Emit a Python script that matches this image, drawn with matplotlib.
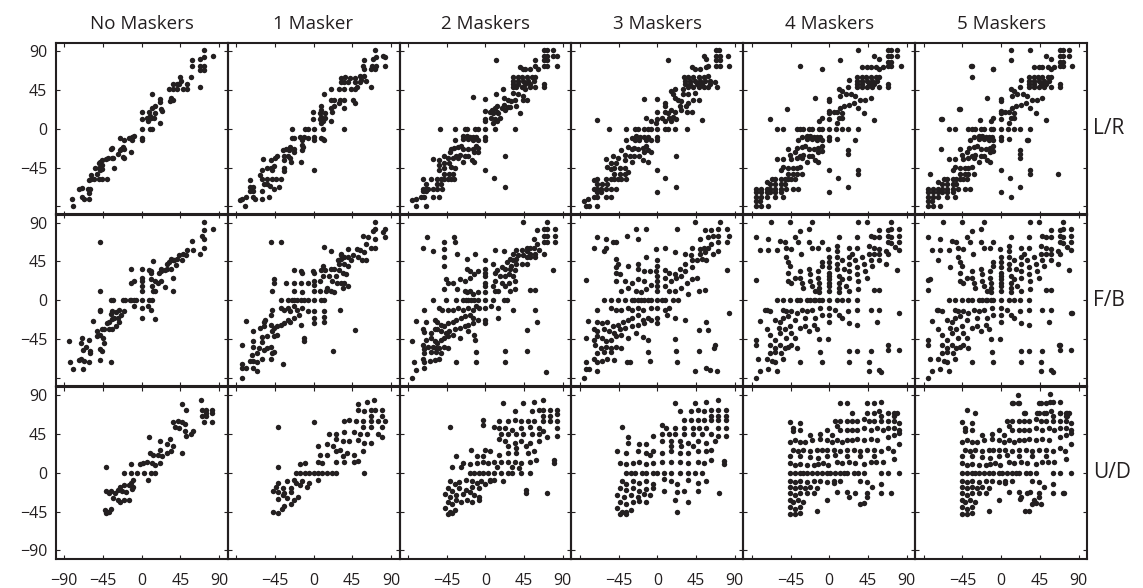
import matplotlib
matplotlib.use('Agg')
import matplotlib.pyplot as plt

plt.rcParams['font.family'] = ['Open Sans', 'DejaVu Sans']

# column titles and row labels
titles = ['No Maskers', '1 Masker', '2 Maskers', '3 Maskers', '4 Maskers', '5 Maskers']
row_labels = ['L/R', 'F/B', 'U/D']
ticks = [-90, -45, 0, 45, 90]

# (target, response) in degrees
lr0 = [(72,91),(83,84),(72,83),(68,81),(58,80),(58,73),(68,73),(72,73),(68,68),(72,68),
       (45,60),(46,56),(36,52),(41,52),(44,52),(53,52),(57,60),(32,46),(36,46),(41,46),(48,46),(53,46),(68,48),
       (34,36),(36,33),(33,32),(12,40),(21,35),(21,31),(15,26),(12,24),(23,23),(24,21),(8,20),(15,18),(10,15),
       (0,20),(0,11),(6,13),(11,12),(14,13),(7,9),(9,13),(21,7),(0,0),(10,0),(12,0),
       (0,-11),(0,-13),(-9,-8),(-11,-9),(-15,-11),(-11,-13),(-25,-11),(-21,-13),(-22,-21),(-24,-24),(-25,-25),
       (-20,-23),(-12,-27),(-34,-22),(-36,-24),(-28,-29),(-33,-34),(-35,-34),(-39,-34),(-41,-35),(-22,-33),
       (-20,-34),(-32,-45),(-46,-36),(-48,-38),(-46,-42),(-50,-40),(-54,-46),(-50,-46),(-46,-47),(-48,-48),
       (-52,-52),(-59,-54),(-59,-58),(-56,-58),(-50,-58),(-46,-58),(-40,-58),(-61,-60),(-63,-70),(-60,-70),
       (-73,-70),(-69,-69),(-61,-74),(-69,-79),(-67,-81),(-61,-82),(-81,-81),(-80,-90)]

lr1 = [(72,91),(73,83),(83,83),(81,84),(69,81),(59,80),(57,73),(68,73),(73,73),(59,69),(67,69),(71,69),(83,73),
       (59,61),(54,61),(48,59),(42,59),(37,60),(32,59),(48,54),(54,54),(40,54),(36,54),(32,54),(30,46),(36,46),
       (44,46),(48,46),(51,48),(67,48),(61,56),(55,57),(20,46),(12,40),(20,34),(24,34),(31,33),(36,33),(46,33),
       (48,30),(30,30),(24,26),(20,24),(22,20),(35,24),(9,26),(9,22),(-1,20),(7,18),(13,18),(9,14),(13,13),(7,11),
       (-1,11),(11,9),(20,9),(9,7),(35,0),(11,0),(0,0),(-7,0),(-10,0),(-25,0),(0,-9),(0,-13),(-7,-11),(-11,-9),
       (-16,-9),(-13,-13),(-23,-11),(-25,-11),(9,-11),(11,-12),(12,-13),(-12,-21),(-13,-19),(-23,-23),(-27,-21),
       (-32,-23),(-36,-25),(-29,-25),(-13,-25),(-23,-27),(-30,-32),(-34,-32),(-27,-34),(-34,-36),(-42,-32),
       (-45,-34),(-50,-36),(-15,-39),(-26,-38),(0,-48),(-50,-46),(-54,-45),(-60,-48),(-48,-48),(-46,-43),
       (-59,-35),(-34,-45),(-34,-49),(-62,-54),(-60,-58),(-54,-58),(-48,-58),(-44,-58),(-38,-58),(-58,-64),
       (-54,-64),(-51,-66),(-46,-70),(-40,-68),(-70,-68),(-74,-68),(-74,-72),(-70,-72),(-74,-59),(-83,-81),
       (-79,-79),(-70,-79),(-68,-81),(-60,-81),(-52,-79),(-80,-90),(-60,-72),(-85,-83)]

lr2 = [(68,91),(72,91),(79,91),(68,84),(72,84),(79,84),(83,84),(68,80),(72,80),(68,73),(72,73),(83,73),(58,80),
       (58,73),(61,70),(52,70),(46,70),(40,72),(44,69),(12,80),(32,60),(38,60),(43,60),(48,60),(54,60),(58,60),
       (32,56),(38,56),(44,56),(50,56),(56,56),(32,52),(38,52),(46,52),(52,52),(32,48),(36,48),(42,48),(46,46),
       (52,48),(58,48),(68,52),(68,48),(32,42),(38,40),(44,38),(44,33),(48,33),(34,33),(36,26),(30,32),(26,34),
       (22,36),(22,28),(28,25),(19,24),(13,26),(11,24),(8,22),(13,20),(15,18),(9,18),(5,20),(7,12),(11,11),(17,12),
       (13,9),(9,7),(0,21),(0,11),(0,9),(23,22),(26,25),(40,18),(20,46),(12,40),(0,35),(-14,37),
       (-53,0),(-36,0),(-24,0),(-21,0),(-12,0),(-9,0),(0,0),(11,0),(34,0),
       (0,-9),(0,-13),(-11,-9),(-14,-9),(-18,-9),(-22,-8),(-26,-8),(-26,-12),(-20,-12),(-14,-13),(-9,-13),
       (-36,-13),(-37,-22),(-32,-21),(-28,-20),(-26,-23),(-20,-23),(-14,-23),(-13,-27),(-9,-27),(-11,-20),
       (-9,-22),(-40,-23),(-41,-27),(-34,-32),(-30,-30),(-24,-32),(-20,-32),(-16,-36),(-13,-38),(-26,-38),
       (-32,-34),(-38,-34),(-44,-34),(-48,-32),(-54,-36),(-61,-35),(-48,-40),(-42,-40),(-54,-42),(-54,-48),
       (-48,-46),(-40,-44),(-36,-46),(-48,-52),(-42,-52),(-38,-52),(-52,-58),(-48,-58),(-44,-58),(-40,-58),
       (-37,-58),(-56,-58),(-63,-58),(-73,-58),(-69,-64),(-56,-64),(-52,-64),(-73,-70),(-69,-70),(-67,-70),
       (-61,-70),(-56,-70),(-50,-70),(-73,-72),(-69,-72),(-61,-79),(-71,-79),(-75,-79),(-54,-79),(-81,-81),
       (-85,-83),(-81,-90),(-69,-90),(0,-48),(10,-57),(23,-32),(23,-68)]

lr3 = [(68,91),(72,91),(68,84),(73,84),(82,84),(54,84),(57,81),(68,80),(73,80),(68,73),(73,73),(83,73),(59,73),
       (57,72),(50,70),(40,72),(44,70),(12,80),(31,60),(36,60),(42,60),(48,60),(54,60),(59,61),(32,56),(38,56),
       (44,56),(50,56),(56,56),(61,56),(32,52),(38,52),(46,52),(52,52),(61,52),(67,54),(69,48),(36,48),(42,48),
       (48,48),(54,48),(59,48),(30,46),(20,46),(16,44),(18,40),(20,36),(24,34),(28,32),(30,40),(36,40),(44,41),
       (48,34),(42,33),(36,30),(33,26),(26,26),(28,22),(34,20),(40,20),(-15,35),(0,35),(9,30),(9,26),(9,20),
       (12,18),(16,22),(20,20),(18,14),(22,11),(16,9),(9,9),(13,12),(5,12),(0,20),(0,11),(-1,7),(52,10),(-13,12),
       (-7,9),(-70,10),
       (-56,0),(-36,0),(-26,0),(-23,0),(-15,0),(-11,0),(-7,0),(0,0),(9,0),(12,0),(20,0),(35,0),
       (0,-9),(0,-13),(-11,-9),(-15,-9),(-20,-9),(-25,-8),(-30,-11),(-26,-13),(-21,-13),(-13,-13),(-7,-13),
       (-36,-13),(-34,-21),(-30,-23),(-27,-22),(-23,-23),(-17,-22),(-13,-20),(-11,-25),(-7,-27),(-15,-27),
       (-42,-25),(-38,-30),(-32,-32),(-27,-32),(-21,-32),(-17,-36),(-11,-38),(-30,-38),(-38,-36),(-46,-34),
       (-52,-32),(-60,-35),(-54,-40),(-48,-40),(-58,-44),(-54,-47),(-50,-46),(-44,-45),(-38,-46),(-34,-50),
       (-50,-52),(-44,-52),(-38,-52),(-54,-58),(-50,-58),(-46,-58),(-42,-58),(-36,-58),(-60,-58),(-70,-58),
       (-74,-60),(-70,-64),(-64,-64),(-58,-64),(-74,-70),(-70,-70),(-66,-70),(-60,-70),(-54,-70),(-48,-70),
       (-70,-73),(-66,-73),(-60,-79),(-70,-79),(-74,-79),(-54,-79),(-81,-81),(-85,-84),(-83,-90),(-79,-90),
       (-70,-90),(0,-48),(9,-57),(22,-32),(22,-68),(0,-73)]

lr4 = [(34,91),(68,91),(72,91),(79,91),(52,84),(58,81),(68,84),(72,84),(79,84),(-34,73),(-9,69),(12,80),(38,72),
       (44,72),(48,72),(54,72),(62,72),(68,73),(72,73),(83,73),(58,70),(68,78),(72,78),(32,60),(38,60),(43,60),
       (48,60),(54,60),(58,60),(32,56),(38,56),(44,56),(50,56),(56,56),(32,52),(38,52),(46,52),(52,52),(32,48),
       (38,48),(44,48),(50,48),(58,48),(68,52),(68,48),(23,57),(22,48),(15,44),(11,46),(13,38),(19,40),(25,40),
       (30,38),(36,33),(42,33),(48,36),(29,30),(23,28),(17,26),(13,24),(9,20),(15,18),(5,20),(11,12),(15,12),
       (9,7),(0,35),(0,32),(0,21),(0,18),(0,11),(-16,36),(-49,23),(-69,11),(-9,12),(-12,9),(34,24),(40,18),(52,10),
       (-61,0),(-54,0),(-38,0),(-34,0),(-30,0),(-24,0),(-20,0),(-12,0),(-9,0),(0,0),(8,0),(15,0),(22,0),(34,0),
       (-36,-13),(-32,-9),(-26,-8),(-22,-8),(-18,-9),(-14,-9),(-11,-9),(0,-9),(0,-13),(9,-12),(30,-13),(-26,-12),
       (-20,-12),(-14,-13),(-9,-13),(-48,-23),(-37,-22),(-32,-21),(-28,-20),(-24,-23),(-18,-23),(-13,-22),
       (-9,-20),(-9,-26),(-13,-27),(-40,-27),(-46,-30),(-34,-32),(-30,-30),(-24,-32),(-20,-32),(-16,-36),
       (-13,-38),(-26,-38),(-32,-34),(-38,-34),(-44,-35),(-54,-35),(-61,-35),(22,-25),(22,-29),(-54,-44),
       (-48,-46),(-42,-45),(-38,-46),(-34,-44),(-56,-48),(-48,-52),(-42,-52),(-38,-52),(-32,-52),(0,-48),
       (34,-48),(34,-52),(22,-68),(10,-57),(0,-73),(-67,-58),(-63,-58),(-56,-58),(-52,-58),(-48,-58),(-44,-58),
       (-40,-58),(-73,-62),(-69,-64),(-63,-64),(-56,-64),(-52,-64),(-85,-70),(-79,-70),(-73,-70),(-69,-70),
       (-63,-70),(-56,-70),(-50,-70),(-42,-70),(-36,-70),(-85,-73),(-79,-73),(-73,-73),(-69,-73),(-63,-73),
       (-56,-73),(-85,-79),(-79,-79),(-73,-79),(-63,-79),(-54,-79),(-85,-84),(-81,-84),(-85,-90),(-79,-90),
       (-71,-90)]

lr5_extra = [(-35,73),(-9,69),(-34,60),(12,91),(-70,11),(-48,23),(-25,10),(31,-13),(66,-53),(-70,-24),
             (-83,-52),(22,-34),(12,-79)]
lr5 = lr4 + lr5_extra

fb0 = [(72,91),(83,83),(72,81),(70,75),(72,71),(58,69),(72,61),(68,53),(60,58),(53,58),(48,54),(44,52),(52,52),
       (47,47),(34,48),(36,46),(32,44),(30,42),(38,47),(41,48),(40,41),(34,36),(30,36),(27,35),(22,34),(20,32),
       (23,36),(13,45),(0,36),(11,34),(11,31),(15,22),(19,20),(23,22),(27,15),(36,11),(36,26),(8,35),(0,26),
       (0,22),(0,16),(0,11),(11,24),(12,16),(13,11),(15,11),(-12,36),(-12,20),(-9,22),(-48,68),(-48,11),
       (-36,0),(-33,0),(-22,0),(-19,0),(-14,0),(-12,0),(-9,0),(-7,0),(0,0),(8,0),(12,0),
       (-9,-7),(0,-9),(7,-7),(11,-11),(0,-21),(15,-22),(-21,-13),(-24,-17),(-26,-11),(-30,-14),(-34,-13),
       (-36,-16),(-40,-27),(-38,-25),(-35,-22),(-32,-21),(-28,-21),(-26,-25),(-30,-30),(-34,-34),(-38,-34),
       (-44,-34),(-46,-34),(-48,-11),(-48,-13),(-57,-24),(-52,-36),(-52,-42),(-48,-40),(-45,-44),(-44,-50),
       (-46,-59),(-48,-57),(-61,-46),(-69,-44),(-71,-50),(-65,-54),(-68,-58),(-60,-59),(-60,-62),(-73,-70),
       (-71,-68),(-61,-72),(-67,-71),(-48,-70),(-36,-72),(-83,-72),(-80,-80),(-68,-80),(-84,-47)]

fb1 = [(72,91),(83,83),(71,82),(81,79),(69,80),(83,73),(63,73),(71,71),(57,75),(61,65),(67,61),(72,61),(59,56),
       (54,58),(50,59),(46,52),(52,50),(56,46),(61,46),(40,50),(36,50),(32,48),(28,46),(30,42),(36,42),(40,40),
       (44,46),(40,59),(32,52),(20,57),(12,62),(11,40),(24,36),(30,35),(34,32),(38,30),(26,28),(22,22),(27,20),
       (32,20),(36,20),(40,16),(34,14),(16,14),(32,54),(-38,67),(-49,67),(-23,35),(-15,34),(-1,34),(0,31),(9,35),
       (13,35),(20,36),(18,28),(11,28),(7,22),(0,22),(0,18),(0,11),(7,11),(14,11),(20,11),(24,9),(-13,32),(-7,20),
       (-15,20),(-23,20),(-32,20),(-46,24),(-46,20),(-48,11),(-23,11),(-13,9),
       (-38,0),(-30,0),(-25,0),(-23,0),(-19,0),(-15,0),(-11,0),(-7,0),(0,0),(9,0),(12,0),
       (31,-11),(12,-13),(12,-20),(12,-25),(0,-13),(0,-21),(0,-27),(-7,-13),(-13,-9),(-19,-11),(-23,-7),(-27,-13),
       (-30,-9),(-34,-11),(-38,-9),(-48,-11),(-50,-17),(-56,-23),(-58,-25),(-79,-24),(-70,-36),(-62,-32),(-58,-30),
       (-50,-29),(-46,-32),(-42,-30),(-38,-29),(-34,-27),(-30,-23),(-27,-25),(-23,-21),(-17,-17),(-15,-29),
       (-48,-36),(-46,-42),(-42,-40),(-54,-42),(-60,-43),(-70,-48),(-60,-49),(-70,-54),(-64,-56),(-58,-58),
       (-54,-56),(-50,-54),(-48,-62),(-46,-60),(-66,-62),(-72,-64),(-83,-52),(-74,-71),(-70,-71),(-66,-72),
       (-60,-68),(-50,-68),(-35,-74),(-83,-74),(-83,-79),(-79,-79),(-70,-79),(-66,-82),(-83,-90),(-11,-44),
       (-11,-48),(48,-35),(23,-59)]

fb2 = [(44,91),(72,91),(68,83),(72,83),(81,83),(60,81),(68,75),(72,75),(81,75),(56,71),(68,67),(72,67),(81,67),
       (60,65),(48,61),(52,61),(57,61),(62,58),(42,58),(48,57),(52,54),(58,54),(68,54),(36,58),(32,54),(38,52),
       (44,52),(48,50),(52,50),(58,50),(36,48),(32,46),(29,48),(25,44),(30,40),(36,42),(42,42),(48,42),(79,35),
       (34,35),(29,36),(23,36),(19,38),(11,32),(13,35),(17,28),(23,28),(27,30),(32,28),(34,22),(27,20),(19,20),
       (11,22),(9,16),(11,11),(15,11),(23,16),(29,11),(34,13),(52,12),(58,12),(0,46),(0,36),(0,32),(0,28),(0,20),
       (0,16),(0,9),(9,42),(22,57),(11,58),(-68,73),(-73,61),(-61,57),(-48,68),(-48,59),(-48,50),(-48,40),
       (-36,67),(-37,73),(-33,53),(-22,48),(-12,54),(-21,36),(-18,34),(-9,34),(-13,30),(-18,26),(-24,22),
       (-46,24),(-44,20),(-38,20),(-30,24),(-48,13),(-33,13),(-24,11),(-22,9),(-18,11),(-14,7),(-9,9),
       (-61,0),(-46,0),(-34,0),(-26,0),(-23,0),(-20,0),(-17,0),(-13,0),(-9,0),(0,0),(9,0),(22,0),(25,0),
       (-71,-11),(-54,-9),(-50,-12),(-44,-12),(-38,-11),(-32,-9),(-26,-11),(-20,-9),(-14,-11),(-11,-7),(-7,-9),
       (0,-9),(7,-7),(15,-9),(32,-11),(15,-21),(0,-23),(0,-27),(58,-12),(60,-25),(48,-35),(-81,-24),(-69,-25),
       (-59,-23),(-56,-25),(-52,-29),(-48,-30),(-44,-27),(-38,-25),(-34,-23),(-28,-21),(-24,-19),(-18,-17),
       (-14,-21),(-9,-23),(-73,-33),(-71,-37),(-63,-38),(-59,-34),(-56,-34),(-52,-36),(-46,-38),(-42,-36),
       (-36,-34),(-30,-32),(-24,-30),(-20,-29),(-14,-27),(-85,-47),(-69,-46),(-63,-44),(-59,-48),(-56,-50),
       (-52,-46),(-48,-44),(-44,-42),(-38,-41),(-30,-44),(-20,-36),(-13,-40),(-12,-46),(-73,-52),(-71,-57),
       (-67,-54),(-61,-54),(-57,-56),(-54,-56),(-48,-54),(-44,-56),(-71,-62),(-63,-60),(-57,-60),(-52,-61),
       (-11,-60),(23,-59),(48,-59),(-83,-72),(-73,-68),(-71,-72),(-65,-71),(-59,-70),(-54,-68),(-34,-72),
       (-11,-72),(23,-72),(-81,-81),(-71,-79),(-85,-90),(70,-83)]

fb3 = [(-25,83),(-13,83),(-35,75),(-23,71),(23,83),(44,91),(73,91),(56,81),(63,81),(71,82),(81,83),(83,75),
       (71,75),(65,75),(59,73),(71,67),(81,67),(63,65),(50,59),(54,61),(59,61),(50,71),(40,61),(-70,73),(-60,71),
       (-52,67),(-48,68),(-74,61),(-60,61),(-62,57),(-48,48),(-46,42),(-48,38),(-34,40),(-23,42),(-13,50),(-1,59),
       (9,61),(20,56),(32,54),(39,52),(50,54),(56,56),(65,54),(71,57),(81,35),(-83,23),(-48,32),(-44,30),(-38,22),
       (-48,22),(-23,36),(-15,34),(-9,34),(-1,34),(9,35),(14,32),(20,30),(26,36),(32,42),(40,46),(46,46),(52,48),
       (57,46),(40,38),(32,34),(28,28),(22,26),(16,22),(9,26),(0,46),(0,40),(0,28),(0,22),(0,16),(0,11),(9,16),
       (13,11),(20,11),(28,14),(34,20),(40,24),(46,26),(-23,24),(-15,22),(-30,20),(-34,14),(-42,11),(-25,11),
       (-19,9),(-13,13),(-7,18),(56,12),(48,11),(36,7),
       (-62,0),(-54,0),(-46,0),(-38,0),(-30,0),(-27,0),(-23,0),(-19,0),(-15,0),(-11,0),(-7,0),(0,0),(5,0),(9,0),
       (18,0),(24,0),
       (83,-15),(-70,-11),(-54,-9),(-48,-12),(-42,-11),(-34,-9),(-29,-11),(-23,-9),(-17,-11),(-7,-9),(0,-9),
       (9,-11),(14,-9),(20,-21),(11,-17),(0,-21),(0,-27),(32,-23),(57,-25),(-81,-24),(-70,-25),(-64,-27),
       (-58,-25),(-52,-30),(-46,-29),(-40,-25),(-34,-23),(-29,-21),(-23,-17),(-17,-23),(-11,-21),(-7,-23),
       (-74,-34),(-70,-36),(-62,-34),(-56,-36),(-50,-38),(-44,-34),(-38,-32),(-30,-30),(-23,-29),(-15,-27),
       (-83,-44),(-74,-46),(-70,-42),(-64,-44),(-60,-48),(-54,-46),(-48,-42),(-42,-41),(-34,-44),(-25,-38),
       (-17,-43),(-11,-46),(48,-35),(59,-35),(-72,-52),(-66,-56),(-60,-54),(-54,-56),(-48,-54),(-42,-56),
       (-70,-62),(-62,-60),(-54,-60),(-11,-60),(20,-45),(22,-59),(48,-59),(67,-52),(66,-56),(-83,-72),(-74,-68),
       (-70,-72),(-64,-71),(-58,-68),(-50,-70),(-35,-72),(-32,-72),(-9,-71),(23,-72),(-83,-80),(-79,-80),
       (-70,-82),(44,-82),(57,-79),(61,-81),(69,-82),(-85,-90)]

fb4 = [(-68,91),(-46,91),(-20,91),(34,91),(44,91),(72,91),(-34,80),(-24,83),(58,81),(68,81),(72,82),(81,83),
       (-85,73),(-71,71),(-57,69),(-52,68),(-40,73),(-36,67),(-24,67),(-9,67),(11,73),(32,73),(48,75),(52,73),
       (58,73),(68,74),(72,73),(81,75),(-81,58),(-71,58),(-61,58),(-50,61),(-44,59),(-33,54),(-20,61),(-13,61),
       (-1,59),(9,63),(23,61),(32,61),(46,63),(52,61),(58,59),(68,67),(72,66),(81,67),(77,62),(81,58),(66,57),
       (52,54),(58,53),(68,54),(-85,23),(79,35),(-50,50),(-48,44),(-46,40),(-48,32),(-48,22),(-44,20),(-40,26),
       (-34,34),(-34,26),(-32,20),(-30,14),(-24,36),(-22,30),(-22,22),(-20,16),(-17,11),(-13,34),(-13,26),
       (-12,20),(-12,14),(-12,9),(-9,44),(-9,40),(0,50),(0,44),(0,38),(0,32),(0,28),(0,24),(0,20),(0,16),(0,11),
       (9,57),(9,50),(9,42),(9,36),(11,28),(11,20),(11,14),(11,9),(15,46),(17,36),(15,24),(19,16),(23,50),(23,42),
       (23,34),(23,26),(23,11),(27,54),(30,46),(32,38),(32,30),(34,22),(34,13),(38,50),(40,42),(42,34),(44,26),
       (46,54),(48,46),(50,40),(58,46),(52,12),(58,12),(66,42),
       (-61,0),(-54,0),(-46,0),(-38,0),(-34,0),(-26,0),(-22,0),(-18,0),(-16,0),(-12,0),(-9,0),(0,0),(9,0),(15,0),
       (22,0),(32,0),
       (-75,-11),(81,-15),(-81,-24),(-73,-12),(-69,-13),(-63,-23),(-57,-25),(-54,-21),(-50,-13),(-48,-19),
       (-44,-13),(-40,-23),(-38,-15),(-32,-11),(-28,-21),(-26,-13),(-20,-11),(-16,-21),(-11,-9),(-9,-17),(0,-9),
       (0,-17),(0,-25),(7,-11),(11,-17),(15,-21),(22,-13),(32,-11),(48,-12),(58,-12),(56,-25),(32,-29),(23,-27),
       (-73,-34),(-69,-40),(-63,-46),(-59,-32),(-57,-38),(-52,-34),(-50,-44),(-46,-30),(-44,-38),(-40,-44),
       (-34,-32),(-28,-30),(-24,-36),(-18,-29),(-14,-34),(-12,-45),(-1,-45),(-69,-52),(-63,-56),(-57,-52),
       (-52,-56),(-48,-54),(-44,-52),(-38,-56),(-69,-62),(-63,-60),(-56,-62),(-11,-60),(23,-59),(48,-59),
       (-85,-46),(-85,-52),(-83,-68),(-73,-68),(-67,-71),(-63,-72),(-54,-68),(-34,-72),(-9,-72),(23,-72),
       (32,-59),(68,-52),(68,-58),(81,-58),(-81,-82),(-71,-80),(-61,-82),(46,-72),(46,-82),(58,-81),(60,-83),
       (-85,-90),(-54,-12)]

fb5_extra = [(-83,24),(-74,46),(-60,38),(83,-15),(67,-52),(-85,12)]
fb5 = fb4 + fb5_extra

ud0 = [(69,84),(47,80),(70,73),(75,73),(82,73),(75,70),(82,70),(52,73),(70,66),(75,66),(82,59),(73,59),(37,59),
       (42,60),(47,59),(51,57),(39,53),(44,52),(50,48),(57,45),(52,43),(60,48),(47,23),(37,31),(29,34),(21,37),
       (8,41),(33,39),(34,25),(29,23),(24,19),(19,21),(21,27),(13,21),(10,23),(1,11),(6,13),(12,11),(16,9),(21,11),
       (-41,7),(-12,10),(-2,10),(-20,0),(-12,0),(-5,0),(3,0),(11,0),(15,0),
       (7,-8),(-10,-8),(-12,-12),(-15,-14),(-20,-14),(-25,-16),(-28,-20),(-23,-21),(-18,-22),(-11,-19),(-10,-16),
       (-36,-21),(-41,-21),(-38,-24),(-31,-24),(-33,-29),(-28,-32),(-20,-32),(-25,-34),(-15,-32),(-43,-43),
       (-40,-46),(-42,-47),(-36,-42),(-38,-45)]

ud1 = [(62,82),(70,84),(52,80),(0,59),(-41,53),(67,73),(72,73),(80,73),(52,73),(59,72),(36,60),(41,61),(49,60),
       (57,60),(67,60),(75,60),(83,60),(67,66),(80,66),(80,53),(67,53),(57,53),(18,45),(26,45),(36,47),(47,47),
       (54,45),(62,45),(75,45),(80,41),(26,39),(34,37),(41,37),(52,38),(59,35),(67,35),(5,31),(16,33),(23,31),
       (31,27),(39,23),(47,21),(57,25),(34,20),(26,25),(16,21),(8,21),(26,13),(36,13),(47,13),(52,14),(5,13),
       (10,11),(-10,11),(-41,7),(-16,10),
       (-21,0),(-16,0),(-10,0),(-5,0),(0,0),(5,0),(10,0),(16,0),(21,0),(26,0),(59,0),
       (5,-8),(-13,-10),(-23,-8),(-31,-10),(-41,-12),(-44,-16),(-36,-18),(-26,-18),(-21,-12),(-16,-14),(-5,-12),
       (-8,-16),(-47,-21),(-41,-22),(-34,-23),(-26,-22),(-36,-26),(-41,-30),(-31,-29),(-23,-32),(-18,-28),
       (-47,-45),(-41,-47),(-37,-42),(-34,-38),(-26,-36)]

ud2 = [(21,81),(44,81),(57,82),(67,84),(34,72),(54,72),(62,73),(67,73),(75,73),(83,73),(83,68),(75,66),(67,66),
       (-3,61),(-3,56),(16,60),(26,60),(34,61),(41,60),(49,60),(57,60),(67,60),(75,60),(83,60),(-41,53),(10,53),
       (16,52),(23,52),(31,50),(41,52),(52,53),(62,52),(67,48),(83,52),(83,43),(72,41),(18,45),(26,45),(36,45),
       (44,45),(54,45),(62,45),(16,39),(23,37),(34,35),(41,37),(52,35),(62,37),(26,31),(36,29),(47,31),(-17,27),
       (0,27),(5,25),(16,21),(26,23),(36,23),(49,23),(57,25),(-3,20),(-10,19),(-34,20),(3,11),(-3,13),(-10,11),
       (-18,10),(-26,11),(10,13),(18,13),(26,13),(34,13),(41,11),(52,13),(59,15),(80,15),(80,11),(-39,7),(-28,7),
       (13,7),(31,7),(39,6),
       (-18,0),(-13,0),(-8,0),(-3,0),(3,0),(10,0),(18,0),(26,0),(31,0),(41,0),(52,0),
       (21,-10),(10,-8),(5,-10),(-41,-10),(-36,-13),(-31,-11),(-23,-8),(-16,-10),(-10,-12),(-5,-10),(0,-13),
       (-44,-18),(-39,-21),(-31,-18),(-23,-20),(-16,-16),(-8,-18),(-47,-25),(-41,-28),(-34,-26),(-26,-25),
       (-18,-22),(-13,-26),(-8,-28),(-44,-34),(-39,-36),(-34,-32),(-28,-34),(-21,-32),(-16,-34),(-8,-32),
       (-47,-41),(-41,-45),(-36,-43),(-39,-47),(-44,-48),(47,-20),(47,-24),(72,-24),(5,-8)]

ud3 = [(21,81),(44,81),(57,82),(70,84),(-41,53),(-34,41),(-34,35),(-21,34),(-13,34),(-5,43),(-8,21),(26,72),
       (39,72),(47,73),(54,72),(62,73),(70,73),(80,73),(80,66),(70,66),(62,66),(31,61),(39,61),(47,61),(54,61),
       (62,61),(70,61),(80,61),(5,56),(10,52),(21,52),(31,52),(41,52),(49,52),(57,52),(70,52),(80,52),(80,43),
       (5,45),(13,45),(21,45),(31,45),(41,45),(52,45),(62,45),(70,43),(5,37),(16,37),(26,37),(36,35),(47,37),
       (57,35),(67,37),(-47,25),(-36,23),(-23,25),(-13,23),(-5,25),(5,23),(16,25),(26,23),(36,23),(47,25),
       (57,25),(16,31),(28,31),(41,31),(62,27),(-44,11),(-36,10),(-28,11),(-21,13),(-13,10),(-5,11),(5,13),
       (16,13),(26,13),(36,11),(47,13),(54,11),(62,15),(78,14),(78,10),
       (-36,0),(-31,0),(-26,0),(-18,0),(-13,0),(-5,0),(0,0),(8,0),(16,0),(26,0),(36,0),(44,0),(52,0),
       (8,-7),(16,-10),(23,-13),(36,-8),(47,-12),(57,-10),(8,-21),(23,-22),(31,-21),(47,-21),(21,-32),(36,-34),
       (23,-45),(72,-24),(-41,-10),(-36,-13),(-28,-10),(-21,-12),(-13,-10),(-5,-13),(-44,-18),(-36,-20),
       (-28,-18),(-21,-21),(-13,-19),(-5,-18),(-47,-26),(-39,-28),(-31,-26),(-23,-28),(-16,-25),(-8,-26),
       (-44,-34),(-36,-36),(-28,-34),(-21,-33),(-13,-34),(-47,-41),(-41,-45),(-36,-45),(-31,-43),(-44,-48),
       (-36,-48)]

ud4 = [(13,81),(21,81),(44,81),(52,81),(60,82),(27,70),(44,70),(52,70),(58,72),(60,66),(68,70),(75,70),(75,66),
       (79,70),(-46,59),(-34,58),(7,60),(13,60),(21,60),(27,60),(32,60),(40,62),(46,60),(52,60),(60,60),(68,60),
       (75,60),(81,58),(-42,52),(-42,48),(-34,50),(-22,44),(-11,45),(-3,50),(3,44),(9,54),(13,50),(21,50),(27,50),
       (32,50),(40,52),(48,50),(56,52),(62,50),(68,52),(75,52),(81,50),(-46,36),(-40,38),(-34,36),(-28,36),
       (-20,38),(-11,39),(-3,38),(3,36),(9,38),(15,36),(21,38),(27,38),(32,39),(40,38),(48,39),(56,38),(68,41),
       (75,44),(81,46),(-42,27),(-36,25),(-30,26),(-22,25),(-14,27),(-9,26),(-3,27),(5,27),(13,25),(21,26),
       (29,27),(36,25),(44,27),(52,26),(60,25),(68,29),(74,25),(81,34),(-46,11),(-40,9),(-34,10),(-26,9),(-18,9),
       (-13,10),(-7,11),(-1,9),(9,13),(15,11),(23,12),(30,11),(40,10),(48,13),(54,13),(62,12),(75,16),(-46,19),
       (-34,19),(-22,18),(-13,17),(-3,19),(7,21),(21,19),(36,19),(52,19),
       (-46,0),(-40,0),(-34,0),(-30,0),(-26,0),(-20,0),(-14,0),(-9,0),(-3,0),(1,0),(7,0),(13,0),(17,0),(21,0),
       (29,0),(34,0),(40,0),(60,0),(68,0),(81,0),
       (-46,-9),(-40,-11),(-34,-9),(-26,-11),(-18,-9),(-11,-9),(-3,-11),(5,-9),(13,-9),(-46,-16),(-40,-18),
       (-34,-16),(-28,-18),(-22,-16),(-14,-18),(-46,-24),(-40,-26),(-34,-24),(-26,-24),(-18,-23),(-46,-32),
       (-42,-34),(-36,-32),(-30,-34),(-46,-40),(-40,-42),(-34,-40),(-46,-48),(-40,-48),(-34,-47),(-14,-44),
       (-3,-32),(5,-12),(9,-22),(21,-22),(23,-28),(30,-24),(36,-36),(40,-35),(44,-28),(44,-23),(50,-16),(60,-13),
       (60,-24),(72,-24),(36,-9),(44,-11)]

ud5_extra = [(20,90),(57,91),(-40,73),(-30,70),(14,81),(20,81),(46,81),(57,82),(69,82),(28,70),(42,70),(50,70),
             (69,70),(77,70),(77,66),(28,-44),(32,-44),(46,-36),(73,-24),(38,-32),(22,-30),(34,-22)]
ud5 = ud4 + ud5_extra

rows = [[lr0, lr1, lr2, lr3, lr4, lr5],
        [fb0, fb1, fb2, fb3, fb4, fb5],
        [ud0, ud1, ud2, ud3, ud4, ud5]]

ink = '#231f20'
W, H = 1143, 588
x0, pw, ph = 55.7, 171.9, 172.2
tops = [42.7, 214.0, 386.7]

fig = plt.figure(figsize=(W / 100, H / 100), dpi=100)

def lab(v):
    return str(v).replace('-', '\u2212')

for r in range(3):
    for c in range(6):
        ax = fig.add_axes([(x0 + c * pw) / W, 1 - (tops[r] + ph) / H, pw / W, ph / H])
        ax.set_facecolor('none')
        pts = rows[r][c]
        ax.plot([p[0] for p in pts], [p[1] for p in pts], 'o', ms=3.9, mew=0, color=ink)
        ax.set_xlim(-100, 100)
        ax.set_ylim(-100, 100)
        ax.set_xticks(ticks)
        ax.set_yticks(ticks)
        ax.tick_params(direction='in', top=True, right=True, length=3, width=0.8,
                       color=ink, labelcolor=ink, labelsize=11.5)
        ax.tick_params(axis='x', pad=10)
        ax.tick_params(axis='y', pad=6)
        for s in ax.spines.values():
            s.set_linewidth(1.5)
            s.set_color(ink)
        if r == 2:
            xl = [lab(t) for t in ticks]
            if c > 0:
                xl[0] = ''
            ax.set_xticklabels(xl)
        else:
            ax.set_xticklabels([])
        if c == 0:
            yl = [lab(t) for t in ticks]
            if r < 2:
                yl[0] = ''
            ax.set_yticklabels(yl)
        else:
            ax.set_yticklabels([])
        if r == 0:
            ax.set_title(titles[c], fontsize=13.5, color=ink, pad=10)
    fig.text(1093 / W, 1 - (tops[r] + ph / 2) / H, row_labels[r], fontsize=15,
             color=ink, ha='left', va='center')

fig.savefig('out.png', dpi=100)
